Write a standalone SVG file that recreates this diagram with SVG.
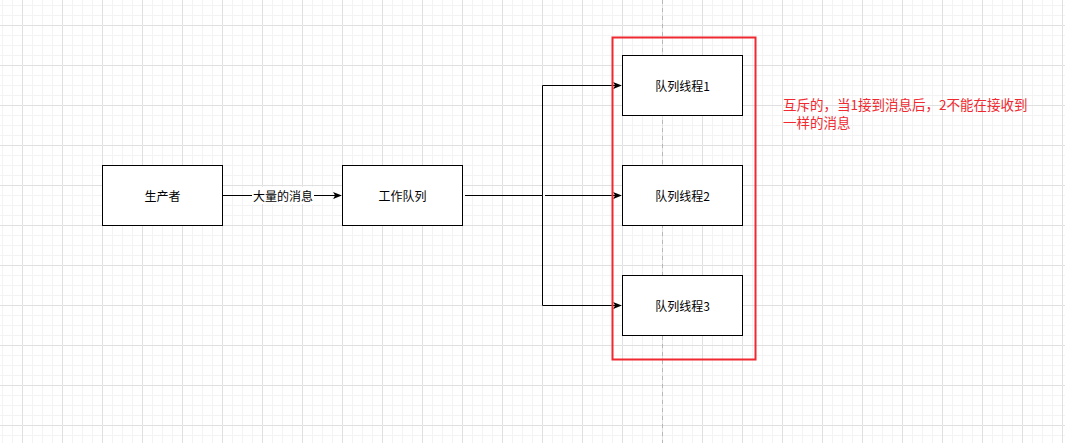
<svg xmlns="http://www.w3.org/2000/svg" width="1065" height="443" viewBox="0 0 1065 443">
<style>
.node rect{fill:#fff;stroke:#000;stroke-width:1}
.lbl{font-family:"Microsoft YaHei","Noto Sans CJK SC",sans-serif;font-size:12px;fill:#000;text-anchor:middle;dominant-baseline:central}
.edge{fill:none;stroke:#000;stroke-width:1}
.note{font-family:"Microsoft YaHei","Noto Sans CJK SC",sans-serif;font-size:13.5px;fill:#f0282f}
</style>
<defs>
<pattern id="grid" x="22" y="25" width="40" height="40" patternUnits="userSpaceOnUse">
<path d="M10 0V40M20 0V40M30 0V40M0 10H40M0 20H40M0 30H40" stroke="#f3f3f3" stroke-width="1" fill="none" transform="translate(0.5 0.5)"/>
<path d="M0 0V40M0 0H40" stroke="#e0e0e0" stroke-width="1" fill="none" transform="translate(0.5 0.5)"/>
</pattern>
<marker id="arr" viewBox="0 0 10 10" refX="9" refY="5" markerWidth="9" markerHeight="9" markerUnits="userSpaceOnUse" orient="auto">
<path d="M0 1L10 5L0 9L2.5 5Z" fill="#000"/>
</marker>
</defs>
<rect width="1065" height="443" fill="#fff"/>
<rect width="1065" height="443" fill="url(#grid)"/>
<line x1="662.5" y1="0" x2="662.5" y2="443" stroke="#b8b8b8" stroke-width="1" stroke-dasharray="4 4"/>
<g id="connectors">
<path class="edge" d="M222 195.5H341" marker-end="url(#arr)"/>
<rect x="252" y="187" width="62" height="17" fill="#fff"/>
<text class="lbl" x="283" y="195.5">大量的消息</text>
<path class="edge" d="M465 195.5H542.5V85.5H621" marker-end="url(#arr)"/>
<path class="edge" d="M542.5 195.5V305.5H621" marker-end="url(#arr)"/>
<path class="edge" d="M545 195.5H621" marker-end="url(#arr)"/>
</g>
<g id="group-box">
<rect x="612.5" y="37.5" width="143" height="322" fill="none" stroke="#f0282f" stroke-width="2"/>
</g>
<g id="producer" class="node">
<rect x="102.5" y="165.5" width="120" height="60"/>
<text class="lbl" x="162.5" y="195.5">生产者</text>
</g>
<g id="work-queue" class="node">
<rect x="342.5" y="165.5" width="120" height="60"/>
<text class="lbl" x="402.5" y="195.5">工作队列</text>
</g>
<g id="thread1" class="node">
<rect x="622.5" y="55.5" width="120" height="60"/>
<text class="lbl" x="682.5" y="85.5">队列线程1</text>
</g>
<g id="thread2" class="node">
<rect x="622.5" y="165.5" width="120" height="60"/>
<text class="lbl" x="682.5" y="195.5">队列线程2</text>
</g>
<g id="thread3" class="node">
<rect x="622.5" y="275.5" width="120" height="60"/>
<text class="lbl" x="682.5" y="305.5">队列线程3</text>
</g>
<g id="note">
<text class="note" x="783" y="110">互斥的，当1接到消息后，2不能在接收到</text>
<text class="note" x="783" y="128">一样的消息</text>
</g>
</svg>
